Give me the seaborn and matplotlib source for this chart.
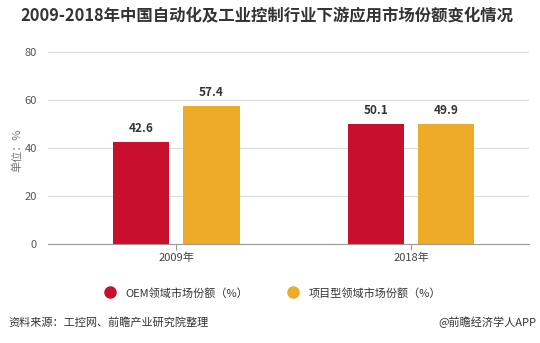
import matplotlib
matplotlib.use("Agg")
import matplotlib.pyplot as plt
from matplotlib.lines import Line2D
import seaborn as sns
import pandas as pd

years = ["2009年", "2018年"]
series_names = ["OEM领域市场份额（%）", "项目型领域市场份额（%）"]
oem_values = [42.6, 50.1]
project_values = [57.4, 49.9]
y_ticks = [0, 20, 40, 60, 80]
colors = ["#C8102E", "#EDAB27"]

sns.set_theme(style="white")
plt.rcParams["font.family"] = ["Noto Sans CJK SC", "DejaVu Sans"]

df = pd.DataFrame({
    "year": years * 2,
    "series": [series_names[0]] * 2 + [series_names[1]] * 2,
    "value": oem_values + project_values,
})

fig = plt.figure(figsize=(5.4, 3.43), dpi=100)
ax = fig.add_axes([48 / 540, 1 - 244 / 343, 481 / 540, 192 / 343])

sns.barplot(data=df, x="year", y="value", hue="series", palette=colors,
            width=0.6, gap=0.2, ax=ax, legend=False, saturation=1, linewidth=0)

ax.set_xlim(-0.545, 1.502)
ax.set_ylim(0, 80)
ax.set_yticks(y_ticks)
ax.set_yticklabels([str(t) for t in y_ticks])
ax.yaxis.grid(True, color="#DDDDDD", linewidth=0.8)
ax.set_axisbelow(True)
for s in ["top", "right", "left"]:
    ax.spines[s].set_visible(False)
ax.spines["bottom"].set_color("#999999")
ax.spines["bottom"].set_linewidth(0.8)
ax.tick_params(axis="y", length=0, labelsize=8, labelcolor="#555555", pad=8)
ax.tick_params(axis="x", length=4, width=0.8, color="#999999", labelsize=8,
               labelcolor="#444444", pad=2, bottom=True)
ax.set_xlabel("")
ax.set_ylabel("")

for cont in ax.containers:
    ax.bar_label(cont, fmt="%.1f", padding=5, fontsize=8.5, fontweight="bold",
                 color="#333333")

fig.text(17 / 540, 1 - 150 / 343, "单位：%", rotation=90, fontsize=8,
         color="#777777", va="center", ha="center")

fig.text(20 / 540, 1 - 16 / 343, "2009-2018年中国自动化及工业控制行业下游应用市场份额变化情况",
         fontsize=11.8, fontweight="bold", color="#333333", va="center", ha="left")

handles = [Line2D([], [], marker="o", linestyle="", markersize=8,
                  markerfacecolor=c, markeredgecolor=c) for c in colors]
fig.legend(handles, series_names, loc="center", bbox_to_anchor=(0.5, 1 - 293 / 343),
           ncol=2, frameon=False, fontsize=8, handletextpad=0.4, columnspacing=3,
           labelcolor="#333333")

fig.text(8 / 540, 1 - 322 / 343, "资料来源：工控网、前瞻产业研究院整理",
         fontsize=8, color="#333333", va="center", ha="left")
fig.text(536 / 540, 1 - 322 / 343, "@前瞻经济学人APP",
         fontsize=8, color="#333333", va="center", ha="right")

fig.savefig("out.png", dpi=100)
